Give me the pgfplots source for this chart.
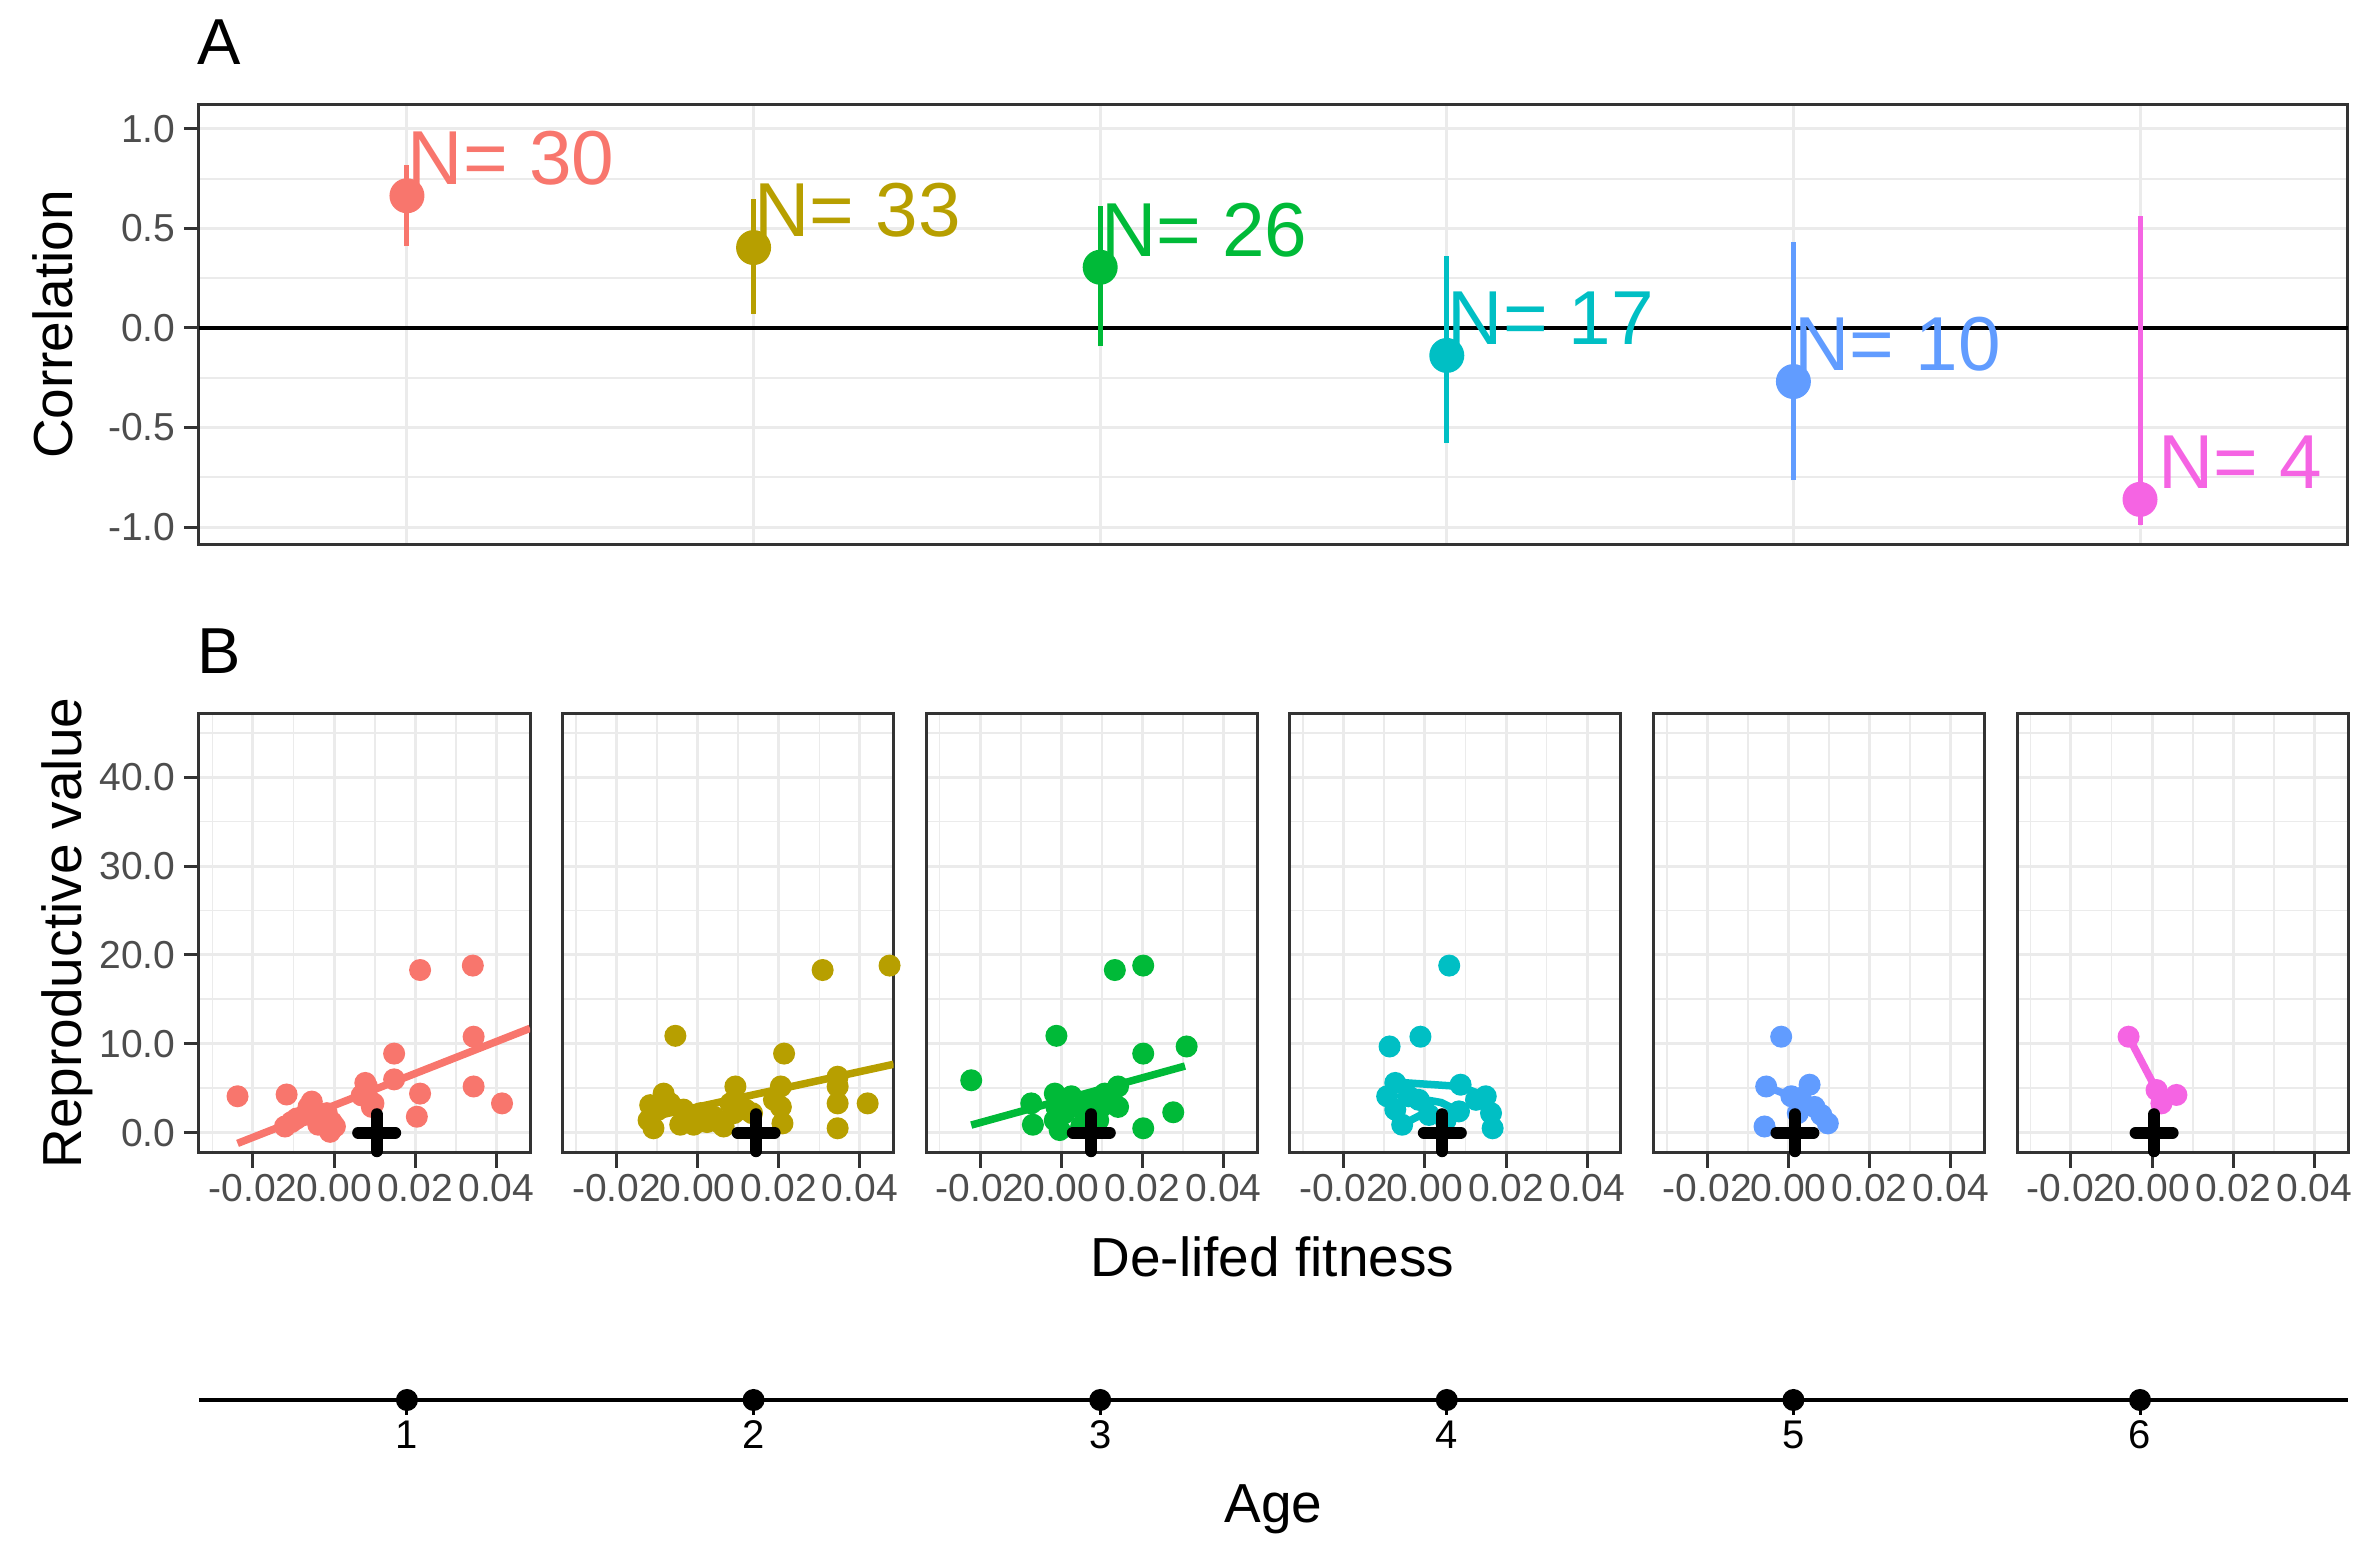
\documentclass[border=0pt]{standalone}
\usepackage{fontspec}
\setmainfont{Liberation Sans}
\usepackage{pgfplots}
\pgfplotsset{compat=1.18}

% ggplot hue palette, 6 ages
\definecolor{c1}{HTML}{F8766D}
\definecolor{c2}{HTML}{B79F00}
\definecolor{c3}{HTML}{00BA38}
\definecolor{c4}{HTML}{00BFC4}
\definecolor{c5}{HTML}{619CFF}
\definecolor{c6}{HTML}{F564E3}
\definecolor{gray20}{HTML}{333333}
\definecolor{gray30}{HTML}{4D4D4D}
\definecolor{gray92}{HTML}{EBEBEB}

\pgfplotsset{
  /pgf/number format/assume math mode=true,
  gg/.style={
    scale only axis, anchor=south west,
    axis line style={draw=gray20, line width=0.6pt},
    major tick style={draw=gray20, line width=0.6pt},
    major tick length=3pt, minor tick length=0pt,
    tick align=outside,
    xtick pos=left, ytick pos=left,
    scaled x ticks=false, scaled y ticks=false,
    major grid style={draw=gray92, line width=0.6pt},
    minor grid style={draw=gray92, line width=0.35pt},
    tick label style={font=\fontsize{7.8}{9}\selectfont, text=gray30},
    xticklabel style={inner sep=1pt},
    yticklabel style={inner sep=1.5pt},
  },
  bp/.style={
    gg, width=66.2pt, height=87.8pt,
    xmin=-0.0333, xmax=0.0483, ymin=-2.28, ymax=47.1,
    xtick={-0.02,0,0.02,0.04}, xticklabels={-0.02,0.00,0.02,0.04},
    minor xtick={-0.03,-0.01,0.01,0.03},
    ytick={0,10,20,30,40}, minor ytick={5,15,25,35,45},
    xmajorgrids, ymajorgrids, xminorgrids, yminorgrids,
  },
  pt/.style={only marks, mark=*, mark size=2pt, #1, mark options={draw=none, fill=#1}},
  fit/.style={#1, line width=1.5pt, no markers},
  mean/.style={only marks, mark=+, mark size=3.7pt, black,
    mark options={line width=2.4pt, line cap=round}},
}

\newcommand{\nlab}[1]{\fontsize{15.3}{18}\selectfont #1}

\begin{document}
\begin{tikzpicture}
\useasboundingbox (0,0) rectangle (472pt,308.4pt);

% ---- A: correlation by age
\begin{axis}[gg, at={(39.8pt,199.4pt)}, width=429.8pt, height=88pt,
  xmin=0.4, xmax=6.6, ymin=-1.09, ymax=1.12,
  xtick={1,...,6}, xticklabels={}, xtick style={draw=none},
  ytick={-1,-0.5,0,0.5,1}, yticklabels={-1.0,-0.5,0.0,0.5,1.0},
  minor ytick={-0.75,-0.25,0.25,0.75},
  xmajorgrids, ymajorgrids, yminorgrids]
\addplot[black, line width=0.8pt] coordinates {(0.4,0) (6.6,0)};
\addplot[c1, line width=1pt] coordinates {(1,0.41) (1,0.82)};
\addplot[c2, line width=1pt] coordinates {(2,0.07) (2,0.65)};
\addplot[c3, line width=1pt] coordinates {(3,-0.093) (3,0.615)};
\addplot[c4, line width=1pt] coordinates {(4,-0.578) (4,0.359)};
\addplot[c5, line width=1pt] coordinates {(5,-0.766) (5,0.43)};
\addplot[c6, line width=1pt] coordinates {(6,-0.99) (6,0.561)};
\addplot[pt=c1, mark size=3.3pt] coordinates {(1,0.664)};
\addplot[pt=c2, mark size=3.3pt] coordinates {(2,0.404)};
\addplot[pt=c3, mark size=3.3pt] coordinates {(3,0.305)};
\addplot[pt=c4, mark size=3.3pt] coordinates {(4,-0.138)};
\addplot[pt=c5, mark size=3.3pt] coordinates {(5,-0.269)};
\addplot[pt=c6, mark size=3.3pt] coordinates {(6,-0.861)};
\node[anchor=base west, inner sep=0pt, text=c1] at (axis cs:1,0.719) {\nlab{N= 30}};
\node[anchor=base west, inner sep=0pt, text=c2] at (axis cs:2,0.459) {\nlab{N= 33}};
\node[anchor=base west, inner sep=0pt, text=c3] at (axis cs:3,0.360) {\nlab{N= 26}};
\node[anchor=base west, inner sep=0pt, text=c4] at (axis cs:4,-0.083) {\nlab{N= 17}};
\node[anchor=base west, inner sep=0pt, text=c5] at (axis cs:5,-0.214) {\nlab{N= 10}};
\node[anchor=base west, inner sep=0pt, text=c6] at (axis cs:6.05,-0.806) {\nlab{N= 4}};
\end{axis}

% ---- B: reproductive value vs de-lifed fitness, one panel per age
\begin{axis}[bp, at={(39.8pt,77.8pt)}, yticklabels={0.0,10.0,20.0,30.0,40.0}]
\addplot[pt=c1] coordinates {(-0.0238,4.1) (-0.0117,4.3) (0.0212,18.3) (0.0342,18.8)
  (0.0344,10.8) (0.0344,5.2) (0.0414,3.3) (0.0148,8.9) (0.0148,6.0) (0.0081,5.2)
  (0.0081,4.1) (0.0212,4.4) (0.0204,1.8) (0.0097,3.3) (-0.0055,3.5) (-0.0051,2.6)
  (-0.0121,0.7) (-0.0092,1.6) (-0.0072,2.0) (-0.003,1.4) (-0.001,0.1) (-0.0006,1.2)
  (-0.0018,2.2) (0.0068,4.2) (0.0093,2.9) (-0.0063,2.9) (-0.0105,1.2) (-0.0039,0.9)
  (0.0077,5.6) (0.0002,0.7)};
\addplot[fit=c1] coordinates {(-0.0238,-1.2) (0.0483,11.74)};
\addplot[mean] coordinates {(0.0105,0)};
\end{axis}

\begin{axis}[bp, at={(112.52pt,77.8pt)}, yticklabels={}, ytick style={draw=none}]
\addplot[pt=c2] coordinates {(0.0308,18.3) (0.0473,18.8) (-0.0055,10.9) (0.0213,8.9)
  (0.0093,5.2) (0.0205,5.2) (0.0345,5.2) (0.0419,3.3) (0.0345,3.3) (0.0345,0.5)
  (0.0209,1.05) (0.0205,2.9) (-0.0084,4.4) (-0.0117,3.1) (-0.0121,1.4) (-0.0097,2.6)
  (-0.0068,3.3) (-0.0026,1.4) (-0.001,0.9) (0.0023,1.2) (0.0056,1.05) (0.004,1.8)
  (0.0089,2.2) (0.0118,2.6) (0.0134,2.2) (0.0081,3.3) (-0.0035,2.6) (-0.0109,0.5)
  (0.0007,2.2) (0.0188,3.7) (0.0345,6.3) (-0.0043,0.9) (0.0064,0.7)};
\addplot[fit=c2] coordinates {(-0.0121,1.7) (0.0483,7.7)};
\addplot[mean] coordinates {(0.0144,0)};
\end{axis}

\begin{axis}[bp, at={(185.24pt,77.8pt)}, yticklabels={}, ytick style={draw=none}]
\addplot[pt=c3] coordinates {(-0.0222,5.9) (0.0132,18.3) (0.0202,18.8) (-0.0012,10.9)
  (0.0202,8.9) (0.0309,9.7) (0.0276,2.3) (0.0202,0.5) (-0.007,0.9) (-0.0074,3.3)
  (-0.0016,4.4) (-0.0012,2.9) (-0.0016,1.4) (0.0008,2.2) (0.0041,2.9) (0.0074,3.7)
  (0.0107,4.4) (0.014,5.2) (0.014,2.9) (0.0091,1.4) (0.0049,0.7) (0.0025,4.1)
  (0.0123,4.1) (-0.0004,0.3) (0.0058,2.2) (0.0099,2.9)};
\addplot[fit=c3] coordinates {(-0.0222,0.86) (0.0305,7.5)};
\addplot[mean] coordinates {(0.0074,0)};
\end{axis}

\begin{axis}[bp, at={(257.96pt,77.8pt)}, yticklabels={}, ytick style={draw=none}]
\addplot[pt=c4] coordinates {(0.006,18.8) (-0.0011,10.8) (-0.0087,9.7) (-0.0093,4.1)
  (-0.0073,2.6) (-0.0056,0.9) (-0.0073,5.6) (0.0088,5.4) (0.015,4.1) (0.0163,2.2)
  (0.0167,0.5) (0.0084,2.4) (0.001,2.0) (-0.0015,3.7) (-0.004,4.1) (0.0126,3.7)
  (0.0051,1.4)};
\addplot[fit=c4] coordinates {(0.0167,0.5) (0.0163,2.2) (0.015,4.1) (0.0088,5.2)
  (-0.0075,5.7) (-0.0093,4.1) (-0.0073,2.4) (-0.0056,0.9) (-0.001,2.0) (0.0015,3.6)
  (0.004,3.4) (0.0084,2.4)};
\addplot[mean] coordinates {(0.0043,0)};
\end{axis}

\begin{axis}[bp, at={(330.68pt,77.8pt)}, yticklabels={}, ytick style={draw=none}]
\addplot[pt=c5] coordinates {(-0.0018,10.8) (-0.0055,5.2) (0.0052,5.4) (-0.0059,0.7)
  (0.0097,1.05) (0.0007,4.1) (0.0031,3.7) (0.0064,2.9) (0.0081,2.0) (0.0023,2.2)};
\addplot[fit=c5] coordinates {(-0.0055,5.2) (0.0007,4.1) (0.0031,3.7) (0.0064,2.9)
  (0.0081,2.0) (0.0097,1.05)};
\addplot[fit=c5] coordinates {(0.0007,4.1) (0.0052,5.4)};
\addplot[mean] coordinates {(0.0016,0)};
\end{axis}

\begin{axis}[bp, at={(403.4pt,77.8pt)}, yticklabels={}, ytick style={draw=none}]
\addplot[pt=c6] coordinates {(-0.0058,10.8) (0.0011,4.8) (0.006,4.25) (0.0023,3.3)};
\addplot[fit=c6] coordinates {(-0.0058,10.8) (0.0011,4.8) (0.006,4.25)};
\addplot[fit=c6] coordinates {(0.0011,4.8) (0.0023,3.3)};
\addplot[mean] coordinates {(0.0005,0)};
\end{axis}

% ---- shared age axis
\begin{axis}[scale only axis, anchor=south west, at={(39.8pt,28.4pt)},
  width=429.8pt, height=1pt, xmin=0.4, xmax=6.6, ymin=0, ymax=1,
  axis x line=bottom, axis y line=none, clip=false,
  x axis line style={-, black, line width=0.8pt},
  xtick={1,...,6}, xticklabels={1,2,3,4,5,6},
  major tick length=3pt, tick align=outside,
  xtick style={black, line width=0.6pt},
  xticklabel style={font=\fontsize{8}{9}\selectfont, text=black, inner sep=1pt}]
\addplot[only marks, mark=*, mark size=2pt, black] coordinates {(1,0) (2,0) (3,0) (4,0) (5,0) (6,0)};
\end{axis}

% titles and tags
\node[font=\fontsize{11}{13}\selectfont, rotate=90] at (10.5pt,243.5pt) {Correlation};
\node[font=\fontsize{11}{13}\selectfont, rotate=90] at (13.5pt,121.8pt) {Reproductive value};
\node[font=\fontsize{11}{13}\selectfont] at (254.5pt,57pt) {De-lifed fitness};
\node[font=\fontsize{11}{13}\selectfont] at (254.7pt,6.5pt) {Age};
\node[font=\fontsize{13}{15}\selectfont] at (43.8pt,300pt) {A};
\node[font=\fontsize{13}{15}\selectfont] at (43.8pt,178.1pt) {B};
\end{tikzpicture}
\end{document}
